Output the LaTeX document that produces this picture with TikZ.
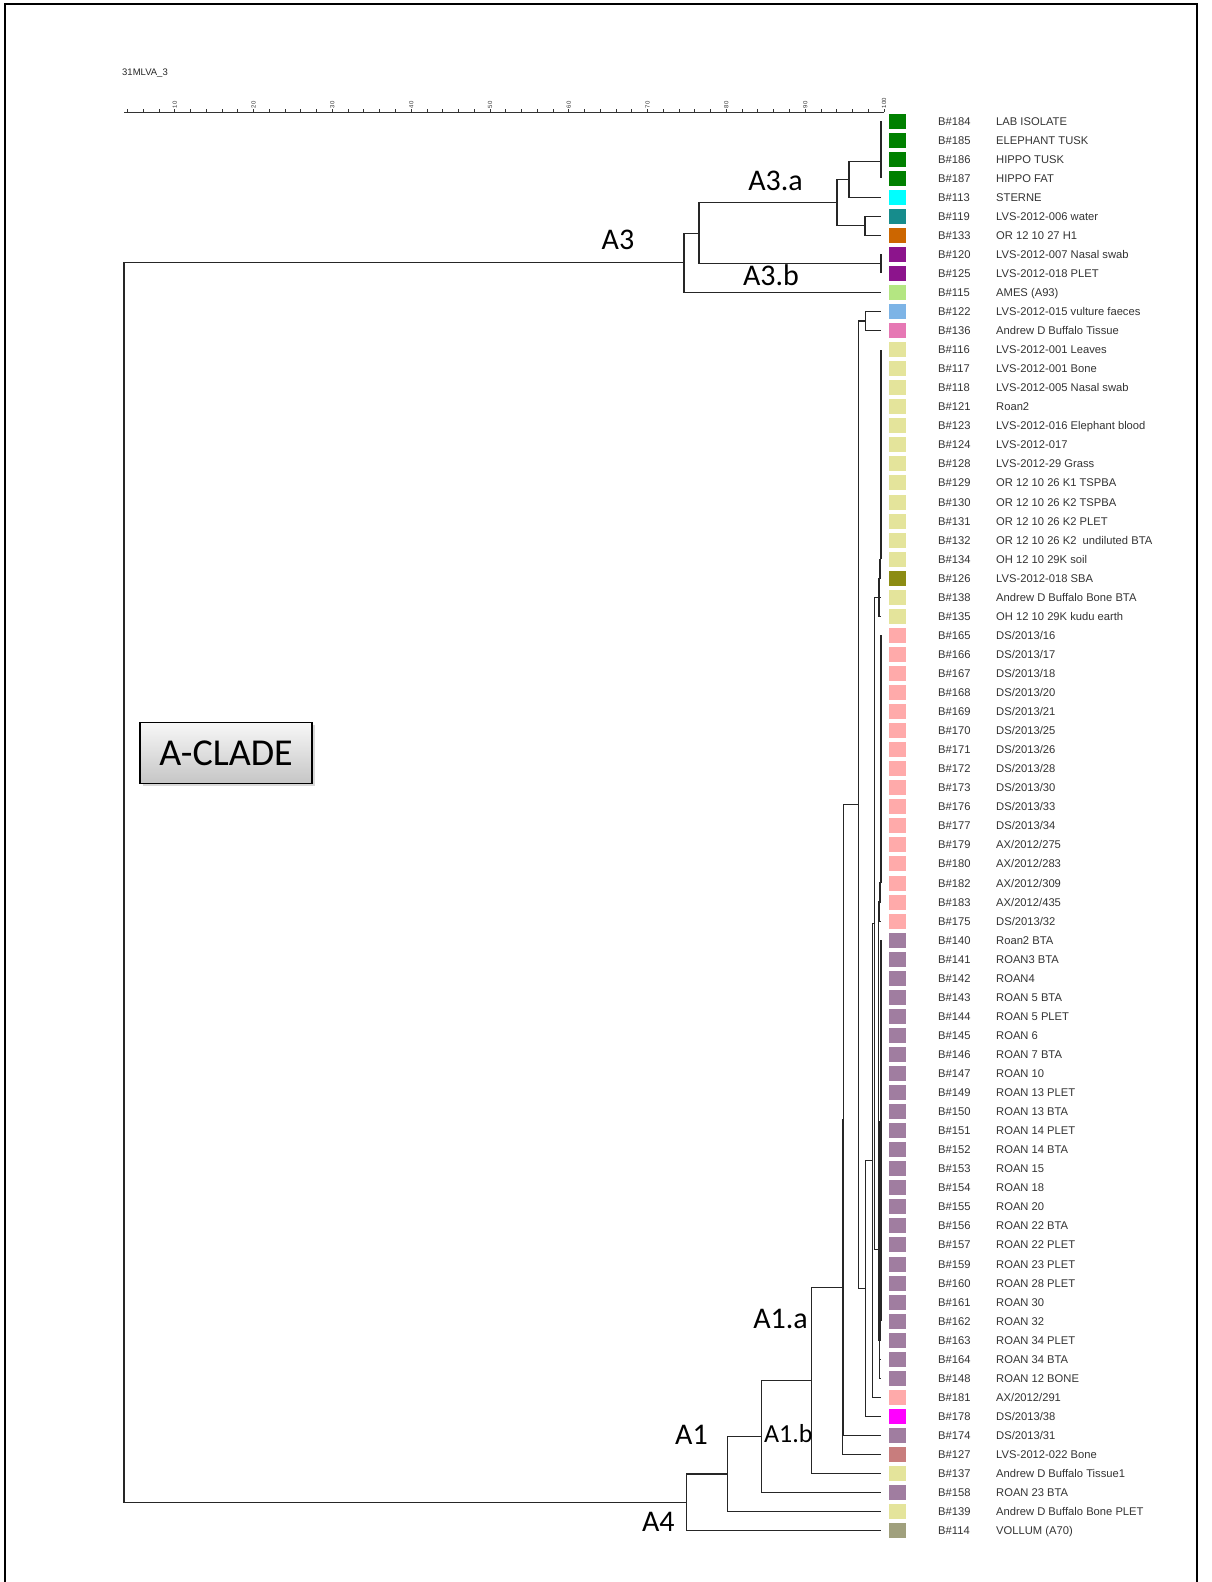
\documentclass[tikz,border=0pt]{standalone}
\usepackage{fontspec}
\setmainfont{Liberation Sans}
\newfontfamily\calib{Carlito}
\usetikzlibrary{calc,shadows}
\definecolor{cgrn}{RGB}{0,128,0}
\definecolor{ccyan}{RGB}{0,255,255}
\definecolor{cteal}{RGB}{22,140,140}
\definecolor{corng}{RGB}{204,102,0}
\definecolor{cpurp}{RGB}{140,20,140}
\definecolor{clgrn}{RGB}{180,230,130}
\definecolor{clblu}{RGB}{125,180,230}
\definecolor{cpink}{RGB}{230,120,180}
\definecolor{cyel}{RGB}{228,228,155}
\definecolor{colive}{RGB}{140,140,20}
\definecolor{csalm}{RGB}{255,170,170}
\definecolor{cmauv}{RGB}{160,125,160}
\definecolor{cmag}{RGB}{255,0,255}
\definecolor{crose}{RGB}{200,125,125}
\definecolor{ckhak}{RGB}{160,160,125}
% join two children at depth x, half way between them
\newcommand{\brjoin}[4]{%
  \coordinate (tmp) at ($(#3)!0.5!(#4)$);
  \coordinate (#1) at (tmp -| #2,0);
  \draw[br] (#1) |- (#3);
  \draw[br] (#1) |- (#4);}

\begin{document}
\begin{tikzpicture}[x=1pt,y=-1pt,
  br/.style={line width=1.2pt,black!85},
  axis/.style={line width=0.9pt,black!80},
  frame/.style={line width=2pt,black},
  sq/.style={minimum width=17pt,minimum height=15pt,inner sep=0pt},
  bid/.style={anchor=base west,inner sep=0pt,text=black!80,font=\fontsize{11.2}{13}\selectfont},
  tk/.style={inner sep=0pt,text=black!80,font=\fontsize{6}{6}\selectfont},
  clab/.style={inner sep=0pt,font=\calib\fontsize{30}{34}\selectfont},
  clade/.style={draw=black,line width=1.4pt,top color=gray!6,bottom color=gray!45,
    minimum width=172pt,minimum height=61pt,inner sep=0pt,
    drop shadow={shadow xshift=3pt,shadow yshift=-3pt,fill=gray!60},
    font=\calib\fontsize{38}{42}\selectfont}]
\useasboundingbox (0,0) rectangle (1212,1582);
% page frame
\draw[frame] (5,1582) -- (5,4) -- (1197,4) -- (1197,1582);
% scale
\node[anchor=west,inner sep=0pt,text=black!85,font=\fontsize{9.5}{10}\selectfont] (title) at (122,73) {31MLVA\_3};
\draw[axis] (124,112) coordinate (ax0) -- (884,112) coordinate (ax1);
\foreach \k in {0,...,48}
  \draw[axis] ({884-15.76*\k},112) -- ++(0,-3);
\foreach \v [count=\k from 0] in {100,90,80,70,60,50,40,30,20,10}
  \node[tk,rotate=90,anchor=west] (sc\k) at ({884-78.8*\k},108.5) {\v};
% leaves
\foreach \r/\bid/\lab/\col in {
  0/184/LAB ISOLATE/cgrn, 1/185/ELEPHANT TUSK/cgrn, 2/186/HIPPO TUSK/cgrn,
  3/187/HIPPO FAT/cgrn, 4/113/STERNE/ccyan, 5/119/LVS-2012-006 water/cteal,
  6/133/OR 12 10 27 H1/corng, 7/120/LVS-2012-007 Nasal swab/cpurp,
  8/125/LVS-2012-018 PLET/cpurp, 9/115/AMES (A93)/clgrn,
  10/122/LVS-2012-015 vulture faeces/clblu, 11/136/Andrew D Buffalo Tissue/cpink,
  12/116/LVS-2012-001 Leaves/cyel, 13/117/LVS-2012-001 Bone/cyel,
  14/118/LVS-2012-005 Nasal swab/cyel, 15/121/Roan2/cyel,
  16/123/LVS-2012-016 Elephant blood/cyel, 17/124/LVS-2012-017/cyel,
  18/128/LVS-2012-29 Grass/cyel, 19/129/OR 12 10 26 K1 TSPBA/cyel,
  20/130/OR 12 10 26 K2 TSPBA/cyel, 21/131/OR 12 10 26 K2 PLET/cyel,
  22/132/OR 12 10 26 K2\ \ undiluted BTA/cyel, 23/134/OH 12 10 29K soil/cyel,
  24/126/LVS-2012-018 SBA/colive, 25/138/Andrew D Buffalo Bone BTA/cyel,
  26/135/OH 12 10 29K kudu earth/cyel,
  27/165/{DS/2013/16}/csalm, 28/166/{DS/2013/17}/csalm, 29/167/{DS/2013/18}/csalm,
  30/168/{DS/2013/20}/csalm, 31/169/{DS/2013/21}/csalm, 32/170/{DS/2013/25}/csalm,
  33/171/{DS/2013/26}/csalm, 34/172/{DS/2013/28}/csalm, 35/173/{DS/2013/30}/csalm,
  36/176/{DS/2013/33}/csalm, 37/177/{DS/2013/34}/csalm, 38/179/{AX/2012/275}/csalm,
  39/180/{AX/2012/283}/csalm, 40/182/{AX/2012/309}/csalm, 41/183/{AX/2012/435}/csalm,
  42/175/{DS/2013/32}/csalm,
  43/140/Roan2 BTA/cmauv, 44/141/ROAN3 BTA/cmauv, 45/142/ROAN4/cmauv,
  46/143/ROAN 5 BTA/cmauv, 47/144/ROAN 5 PLET/cmauv, 48/145/ROAN 6/cmauv,
  49/146/ROAN 7 BTA/cmauv, 50/147/ROAN 10/cmauv, 51/149/ROAN 13 PLET/cmauv,
  52/150/ROAN 13 BTA/cmauv, 53/151/ROAN 14 PLET/cmauv, 54/152/ROAN 14 BTA/cmauv,
  55/153/ROAN 15/cmauv, 56/154/ROAN 18/cmauv, 57/155/ROAN 20/cmauv,
  58/156/ROAN 22 BTA/cmauv, 59/157/ROAN 22 PLET/cmauv, 60/159/ROAN 23 PLET/cmauv,
  61/160/ROAN 28 PLET/cmauv, 62/161/ROAN 30/cmauv, 63/162/ROAN 32/cmauv,
  64/163/ROAN 34 PLET/cmauv, 65/164/ROAN 34 BTA/cmauv, 66/148/ROAN 12 BONE/cmauv,
  67/181/{AX/2012/291}/csalm, 68/178/{DS/2013/38}/cmag, 69/174/{DS/2013/31}/cmauv,
  70/127/LVS-2012-022 Bone/crose, 71/137/Andrew D Buffalo Tissue1/cyel,
  72/158/ROAN 23 BTA/cmauv, 73/139/Andrew D Buffalo Bone PLET/cyel,
  74/114/VOLLUM (A70)/ckhak} {
  \pgfmathsetmacro\yy{121+19.05*\r}
  \coordinate (l\r) at (881,\yy);
  \node[sq,fill=\col] (sq\r) at (897.5,\yy) {};
  \node[bid] (id\r) at (938,{\yy+4}) {B\#\bid};
  \node[bid] (lb\r) at (996,{\yy+4}) {\lab};
}
% A3 clade
\coordinate (k0) at (l0);
\foreach \r [count=\p from 0] in {1,2,3} {\brjoin{k\r}{881}{k\p}{l\r}}
\brjoin{n113}{849}{k3}{l4}
\brjoin{n119}{865}{l5}{l6}
\brjoin{a3a}{837}{n113}{n119}
\brjoin{a3b}{881}{l7}{l8}
\brjoin{n120}{699}{a3a}{a3b}
\brjoin{a3}{684}{n120}{l9}
% A1 clade, near-identical runs first
\coordinate (k12) at (l12);
\foreach \r/\xx [count=\p from 12] in {13/881,14/881,15/881,16/881,17/881,18/881,
  19/881,20/881,21/881,22/881,23/881,24/880.3,25/879.8,26/879}
  {\brjoin{k\r}{\xx}{k\p}{l\r}}
\coordinate (k27) at (l27);
\foreach \r/\xx [count=\p from 27] in {28/881,29/881,30/881,31/881,32/881,33/881,
  34/881,35/881,36/881,37/881,38/881,39/881,40/881,41/880.3,42/879.8}
  {\brjoin{k\r}{\xx}{k\p}{l\r}}
\coordinate (k43) at (l43);
\foreach \r/\xx [count=\p from 43] in {44/881,45/881,46/881,47/881,48/881,49/881,
  50/881,51/881,52/881,53/881,54/881,55/881,56/881,57/881,58/881,59/881,60/881,
  61/881,62/881,63/881,64/880.3,65/879.8}
  {\brjoin{k\r}{\xx}{k\p}{l\r}}
\brjoin{n122}{865.7}{l10}{l11}
\brjoin{nds}{878.5}{k42}{k65}
\brjoin{n148}{879.3}{nds}{l66}
\brjoin{n116}{874.5}{k26}{n148}
\brjoin{n181}{872.5}{n116}{l67}
\brjoin{n178}{865.7}{n181}{l68}
\brjoin{n136}{858.3}{n122}{n178}
\brjoin{n174}{843.8}{n136}{l69}
\brjoin{n127}{842.5}{n174}{l70}
\brjoin{a1a}{811.7}{n127}{l71}
\brjoin{a1b}{761.7}{a1a}{l72}
\brjoin{a1}{727.3}{a1b}{l73}
\brjoin{a4}{686.7}{a1}{l74}
\brjoin{root}{124}{a3}{a4}
% clade labels
\node[clab] (ta3a) at (775.5,181) {A3.a};
\node[clab] (ta3) at (618,240) {A3};
\node[clab] (ta3b) at (771,275) {A3.b};
\node[clab] (ta1a) at (780.5,1319) {A1.a};
\node[clab] (ta1) at (691.5,1434.5) {A1};
\node[clab,font=\calib\fontsize{26}{30}\selectfont] (ta1b) at (788.3,1433.7) {A1.b};
\node[clab] (ta4) at (658.3,1521.7) {A4};
\node[clade] (aclade) at (226,752.8) {A-CLADE};
\end{tikzpicture}
\end{document}
